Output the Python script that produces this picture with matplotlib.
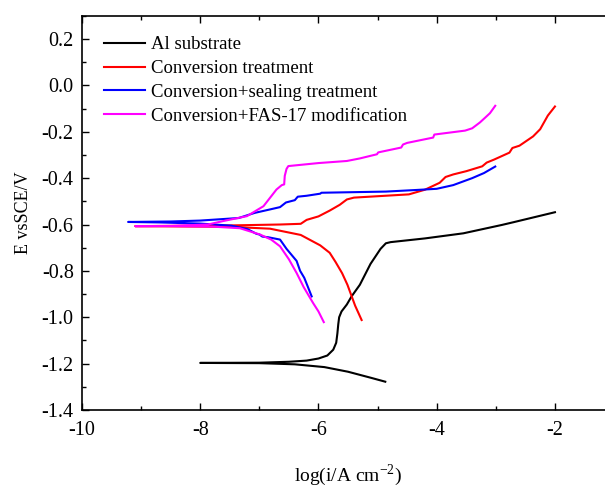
import numpy as np
import matplotlib
matplotlib.use("Agg")
import matplotlib.pyplot as plt
from matplotlib.ticker import MultipleLocator, FuncFormatter

plt.rcParams['font.family'] = ['Liberation Serif', 'DejaVu Serif']
plt.rcParams['mathtext.fontset'] = 'custom'
plt.rcParams['mathtext.rm'] = 'Liberation Serif'
plt.rcParams['axes.unicode_minus'] = False

# Tafel curves: cathodic tail -> Ecorr -> anodic tail
al_x = [-4.87, -5.1, -5.5, -5.9, -6.4, -7.0, -8.0,
        -7.0, -6.5, -6.2, -6.0, -5.85, -5.75, -5.7, -5.68, -5.665, -5.65,
        -5.61, -5.52, -5.44, -5.3, -5.12, -4.95, -4.86, -4.78, -4.2, -3.55,
        -2.9, -2.7, -2.0]
al_y = [-1.278, -1.262, -1.235, -1.215, -1.203, -1.198, -1.197,
        -1.196, -1.192, -1.187, -1.178, -1.165, -1.14, -1.11, -1.07, -1.03, -1.0,
        -0.975, -0.945, -0.91, -0.86, -0.77, -0.705, -0.681, -0.676, -0.66, -0.638,
        -0.602, -0.59, -0.547]

conv_x = [-5.27, -5.38, -5.51, -5.6, -5.71, -5.81, -5.97, -6.3, -6.82, -7.5, -8.5, -9.1,
          -8.5, -7.5, -6.65, -6.3, -6.2, -6.0, -5.81, -5.64, -5.52, -5.4, -5.0, -4.47,
          -4.2, -3.95, -3.85, -3.72, -3.5, -3.23, -3.155, -3.03, -2.77, -2.72, -2.6,
          -2.37, -2.25, -2.12, -2.0]
conv_y = [-1.012, -0.95, -0.86, -0.81, -0.762, -0.722, -0.69, -0.645, -0.618, -0.61, -0.608, -0.607,
          -0.606, -0.604, -0.6, -0.597, -0.58, -0.565, -0.54, -0.515, -0.492, -0.484, -0.478, -0.47,
          -0.45, -0.42, -0.395, -0.384, -0.37, -0.349, -0.333, -0.32, -0.29, -0.27, -0.26,
          -0.22, -0.189, -0.13, -0.091]

seal_x = [-6.115, -6.24, -6.31, -6.37, -6.54, -6.65, -6.71, -6.85, -6.95, -7.0, -7.05, -7.2,
          -7.47, -8.0, -8.7, -9.22,
          -8.5, -8.0, -7.35, -7.08, -6.82, -6.65, -6.55, -6.4, -6.35, -6.2, -5.97, -5.95,
          -4.86, -4.34, -4.0, -3.72, -3.4, -3.2, -3.01]
seal_y = [-0.91, -0.83, -0.8, -0.757, -0.705, -0.665, -0.662, -0.655, -0.652, -0.643, -0.64, -0.62,
          -0.605, -0.596, -0.591, -0.589,
          -0.587, -0.583, -0.572, -0.55, -0.535, -0.525, -0.505, -0.495, -0.48, -0.476, -0.467, -0.463,
          -0.458, -0.451, -0.446, -0.43, -0.4, -0.378, -0.35]

fas_x = [-5.91, -6.0, -6.09, -6.25, -6.37, -6.5, -6.65, -6.8, -6.99, -7.33, -7.8, -8.5, -9.1,
         -8.5, -7.87, -7.61, -7.21, -6.93, -6.71, -6.62, -6.58, -6.57, -6.54, -6.51, -6.0,
         -5.52, -5.3, -5.01, -4.99, -4.6, -4.57, -4.5, -4.06, -4.04, -3.52, -3.4, -3.27,
         -3.18, -3.1, -3.01]
fas_y = [-1.021, -0.975, -0.939, -0.87, -0.809, -0.75, -0.694, -0.665, -0.643, -0.616, -0.609, -0.607, -0.607,
         -0.606, -0.6, -0.585, -0.564, -0.521, -0.449, -0.43, -0.427, -0.39, -0.36, -0.348, -0.335,
         -0.326, -0.315, -0.297, -0.289, -0.268, -0.255, -0.248, -0.225, -0.212, -0.195, -0.185, -0.16,
         -0.139, -0.12, -0.088]

labels = ["Al substrate", "Conversion treatment", "Conversion+sealing treatment",
          "Conversion+FAS-17 modification"]
colors = ["black", "#ff0000", "#0000ff", "#ff00ff"]

fig = plt.figure(figsize=(6.05, 4.86), dpi=100)
ax = fig.add_axes([0.1355, 0.1564, 0.8795, 0.811])

for xs, ys, lab, c in zip([al_x, conv_x, seal_x, fas_x], [al_y, conv_y, seal_y, fas_y], labels, colors):
    ax.plot(xs, ys, color=c, lw=1.5, label=lab)

ax.set_xlim(-10, -1)
ax.set_ylim(-1.4, 0.3)
ax.set_xticks([-10, -8, -6, -4, -2])
ax.xaxis.set_minor_locator(MultipleLocator(1))
ax.set_yticks(np.arange(-1.4, 0.21, 0.2))
ax.yaxis.set_minor_locator(MultipleLocator(0.1))
ax.yaxis.set_major_formatter(FuncFormatter(lambda v, p: f"{round(v, 1) + 0.0:.1f}"))
ax.tick_params(which='both', direction='in', top=True, right=True, labelsize=14.5, width=1)
ax.tick_params(which='major', length=5, pad=6)
ax.tick_params(axis='x', which='major', pad=8)
ax.tick_params(which='minor', length=3)
for s in ax.spines.values():
    s.set_linewidth(1.2)

ax.set_xlabel("log(i/A cm$^{-2}$)", fontsize=14, labelpad=16)
ax.set_ylabel("E vsSCE/V", fontsize=13, labelpad=7)

ax.legend(loc='upper left', bbox_to_anchor=(0.041, 0.948), frameon=False, fontsize=13.5,
          handlelength=2.2, handletextpad=0.3, labelspacing=0.35, borderpad=0, borderaxespad=0)

fig.savefig("out.png", dpi=100)
